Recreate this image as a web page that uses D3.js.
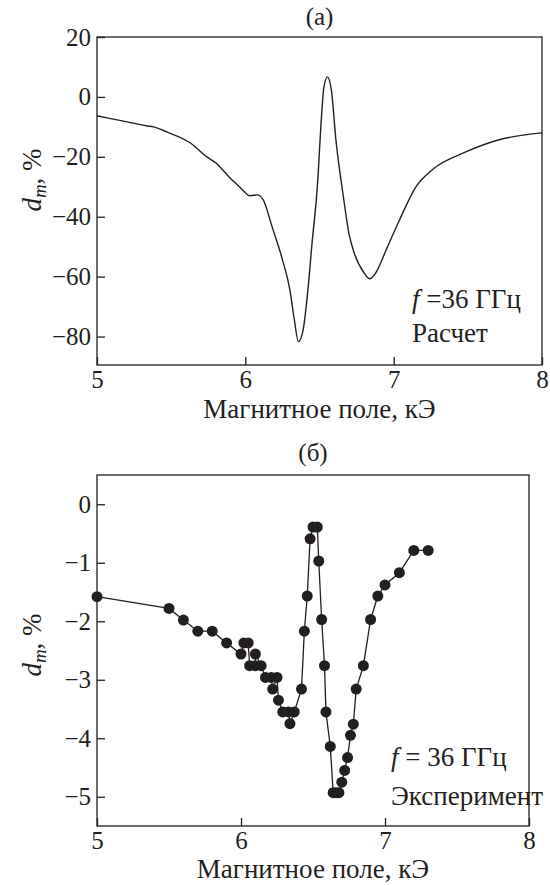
<!DOCTYPE html>
<html>
<head>
<meta charset="utf-8">
<script src="https://cdn.jsdelivr.net/npm/d3@7"></script>
<style>
  html, body { margin: 0; padding: 0; background: #fff; }
  svg { display: block; }
</style>
</head>
<body>
<script>
// Calculated curve: magnetic field (kOe) vs d_m (%)
const calcField = [5.00, 5.17, 5.34, 5.38, 5.47, 5.63, 5.74, 5.80, 5.89, 5.96, 6.00, 6.03, 6.08, 6.12, 6.18, 6.25, 6.30, 6.33, 6.358, 6.39, 6.42, 6.45, 6.49, 6.50, 6.53, 6.553, 6.58, 6.61, 6.66, 6.70, 6.73, 6.80, 6.84, 6.88, 6.95, 7.04, 7.15, 7.26, 7.49, 7.71, 8.00];
const calcDm    = [-6.3, -8.0, -9.7, -10.0, -11.7, -15.4, -20.0, -22.0, -26.7, -30.0, -32.0, -33.0, -32.7, -34.3, -43.3, -54.3, -64.3, -74.3, -81.7, -77.7, -65.3, -48.7, -26.7, -17.7, 3.3, 6.7, 2.3, -14.0, -33.0, -46.0, -51.5, -58.7, -60.7, -58.7, -51.0, -41.0, -30.0, -24.3, -18.3, -14.3, -12.0];

// Measured points: magnetic field (kOe) vs d_m (%)
const expField = [5.00, 5.50, 5.60, 5.70, 5.80, 5.90, 6.00, 6.02, 6.05, 6.06, 6.10, 6.10, 6.14, 6.17, 6.21, 6.22, 6.25, 6.26, 6.29, 6.33, 6.34, 6.37, 6.42, 6.44, 6.46, 6.48, 6.50, 6.53, 6.54, 6.56, 6.58, 6.59, 6.62, 6.64, 6.66, 6.68, 6.70, 6.72, 6.74, 6.76, 6.78, 6.80, 6.85, 6.90, 6.95, 7.00, 7.10, 7.20, 7.30];
const expDm    = [-1.58, -1.78, -1.98, -2.17, -2.17, -2.37, -2.56, -2.37, -2.37, -2.76, -2.76, -2.56, -2.76, -2.96, -2.96, -3.16, -2.96, -3.35, -3.55, -3.55, -3.75, -3.55, -3.16, -2.17, -1.57, -0.59, -0.39, -0.39, -0.97, -1.97, -2.76, -3.55, -4.14, -4.93, -4.93, -4.93, -4.75, -4.55, -4.33, -3.95, -3.76, -3.16, -2.76, -1.97, -1.57, -1.38, -1.17, -0.79, -0.79];

const xTicks = [5, 6, 7, 8];
const yTicksTop = [20, 0, -20, -40, -60, -80];
const yTicksBottom = [0, -1, -2, -3, -4, -5];

const W = 550, H = 885;
const TICK_FONT = 25;   // numbers
const TEXT_FONT = 27;   // titles and notes
const INK = "#231f20";

const svg = d3.select("body").append("svg")
  .attr("width", W).attr("height", H);

// serif text helper
function serif(sel, size = TEXT_FONT) {
  return sel.style("font-family", "\"Liberation Serif\"")
    .style("font-size", size + "px")
    .style("fill", INK);
}

function panel(opts) {
  const { left, right, top, bottom, xDomain, yDomain, yTicks, title, titleY, xTitleY, yTitleY } = opts;
  const x = d3.scaleLinear().domain(xDomain).range([left, right]);
  const y = d3.scaleLinear().domain(yDomain).range([bottom, top]);
  const g = svg.append("g");

  // inner ticks on left and bottom, labels outside
  const yAxis = d3.axisLeft(y).tickValues(yTicks).tickSizeInner(-8).tickSizeOuter(0).tickPadding(6)
    .tickFormat(d3.format("d"));
  const yg = g.append("g").attr("transform", `translate(${left},0)`).call(yAxis);
  const xAxis = d3.axisBottom(x).tickValues(xTicks).tickSizeInner(-8).tickSizeOuter(0).tickPadding(5)
    .tickFormat(d3.format("d"));
  const xg = g.append("g").attr("transform", `translate(0,${bottom})`).call(xAxis);
  [yg, xg].forEach(a => {
    a.select(".domain").remove();
    a.selectAll("line").attr("stroke", INK).attr("stroke-width", 1.3);
    serif(a.selectAll("text"), TICK_FONT);
  });

  // frame
  g.append("rect")
    .attr("x", left).attr("y", top)
    .attr("width", right - left).attr("height", bottom - top)
    .attr("fill", "none").attr("stroke", INK).attr("stroke-width", 1.3);

  // panel title
  serif(g.append("text"), TICK_FONT).attr("x", (left + right) / 2).attr("y", titleY)
    .attr("text-anchor", "middle").text(title);

  // x axis title
  serif(g.append("text")).attr("x", (left + right) / 2).attr("y", xTitleY)
    .attr("text-anchor", "middle").text("Магнитное поле, кЭ");

  // y axis title: d_m, %
  const yt = serif(g.append("text"))
    .attr("transform", `translate(41,${yTitleY}) rotate(-90)`)
    .attr("text-anchor", "middle");
  yt.append("tspan").style("font-style", "italic").text("d");
  yt.append("tspan").style("font-style", "italic").style("font-size", Math.round(TEXT_FONT * 0.72) + "px").attr("dy", 5).text("m");
  yt.append("tspan").attr("dy", -5).text(", %");

  return { g, x, y };
}

// Panel (a): calculation
const pa = panel({
  left: 97, right: 542, top: 37, bottom: 365,
  xDomain: [5, 8], yDomain: [-89.5, 20], yTicks: yTicksTop,
  title: "(a)", titleY: 25, xTitleY: 418, yTitleY: 180
});
const calc = calcField.map((f, i) => [f, calcDm[i]]);
pa.g.append("path").datum(calc)
  .attr("fill", "none").attr("stroke", INK).attr("stroke-width", 1.4)
  .attr("d", d3.line().x(d => pa.x(d[0])).y(d => pa.y(d[1])).curve(d3.curveMonotoneX));

const noteA = serif(pa.g.append("text")).attr("x", 412).attr("y", 308);
noteA.append("tspan").style("font-style", "italic").text("f");
noteA.append("tspan").text(" =36 ГГц");
serif(pa.g.append("text")).attr("x", 412).attr("y", 342).text("Расчет");

// Panel (б): experiment
const pb = panel({
  left: 97, right: 529, top: 475, bottom: 826,
  xDomain: [5, 8], yDomain: [-5.5, 0.5], yTicks: yTicksBottom,
  title: "(б)", titleY: 461, xTitleY: 878, yTitleY: 645
});
const exp = expField.map((f, i) => [f, expDm[i]]);
pb.g.append("path").datum(exp)
  .attr("fill", "none").attr("stroke", INK).attr("stroke-width", 1.3)
  .attr("d", d3.line().x(d => pb.x(d[0])).y(d => pb.y(d[1])));
pb.g.selectAll("circle.pt").data(exp).join("circle")
  .attr("class", "pt")
  .attr("cx", d => pb.x(d[0])).attr("cy", d => pb.y(d[1]))
  .attr("r", 5.5).attr("fill", INK);

const noteB = serif(pb.g.append("text")).attr("x", 391).attr("y", 766);
noteB.append("tspan").style("font-style", "italic").text("f");
noteB.append("tspan").text(" = 36 ГГц");
serif(pb.g.append("text")).attr("x", 391).attr("y", 805).text("Эксперимент");
</script>
</body>
</html>
